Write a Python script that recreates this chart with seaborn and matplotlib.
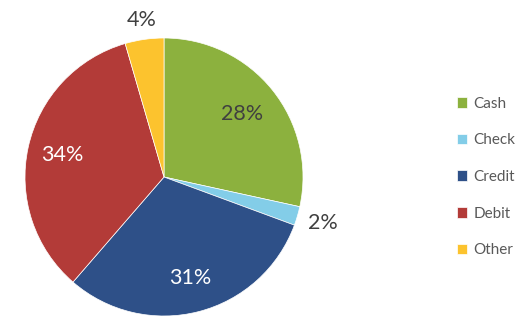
import numpy as np
import matplotlib
matplotlib.use("Agg")
import matplotlib.pyplot as plt
import seaborn as sns

categories = ["Cash", "Check", "Credit", "Debit", "Other"]
values = [28.4, 2.2, 30.7, 34.1, 4.5]
labels = ["28%", "2%", "31%", "34%", "4%"]
colors = ["#8CB13E", "#83CDE8", "#2E5088", "#B33B38", "#FCC32E"]
label_colors = ["#404040", "#404040", "white", "white", "#404040"]
label_radius = [0.72, 1.19, 0.75, 0.75, 1.14]

sns.set_style("white")
plt.rcParams["font.family"] = ["Lato", "DejaVu Sans"]

W, H = 532, 323
fig = plt.figure(figsize=(W / 100, H / 100), dpi=100)
cx, cy, R = 164, 177, 139
ax = fig.add_axes([(cx - R) / W, (H - cy - R) / H, 2 * R / W, 2 * R / H])

wedges, _ = ax.pie(values, colors=colors, startangle=90, counterclock=False,
                   radius=1.0, wedgeprops=dict(linewidth=0.5, edgecolor="white"))
for w, lab, col, r in zip(wedges, labels, label_colors, label_radius):
    ang = np.deg2rad((w.theta1 + w.theta2) / 2)
    ax.text(r * np.cos(ang), r * np.sin(ang), lab, ha="center", va="center",
            fontsize=15.5, color=col)
ax.set_xlim(-1, 1)
ax.set_ylim(-1, 1)
ax.set_aspect("equal")
ax.axis("off")

fig.legend(wedges, categories, loc="center left",
           bbox_to_anchor=(443 / W, 1 - 177 / H), frameon=False,
           fontsize=11, labelcolor="#595959", handlelength=0.7,
           handleheight=0.7, handletextpad=0.4, labelspacing=1.48)

fig.savefig("out.png", dpi=100)
